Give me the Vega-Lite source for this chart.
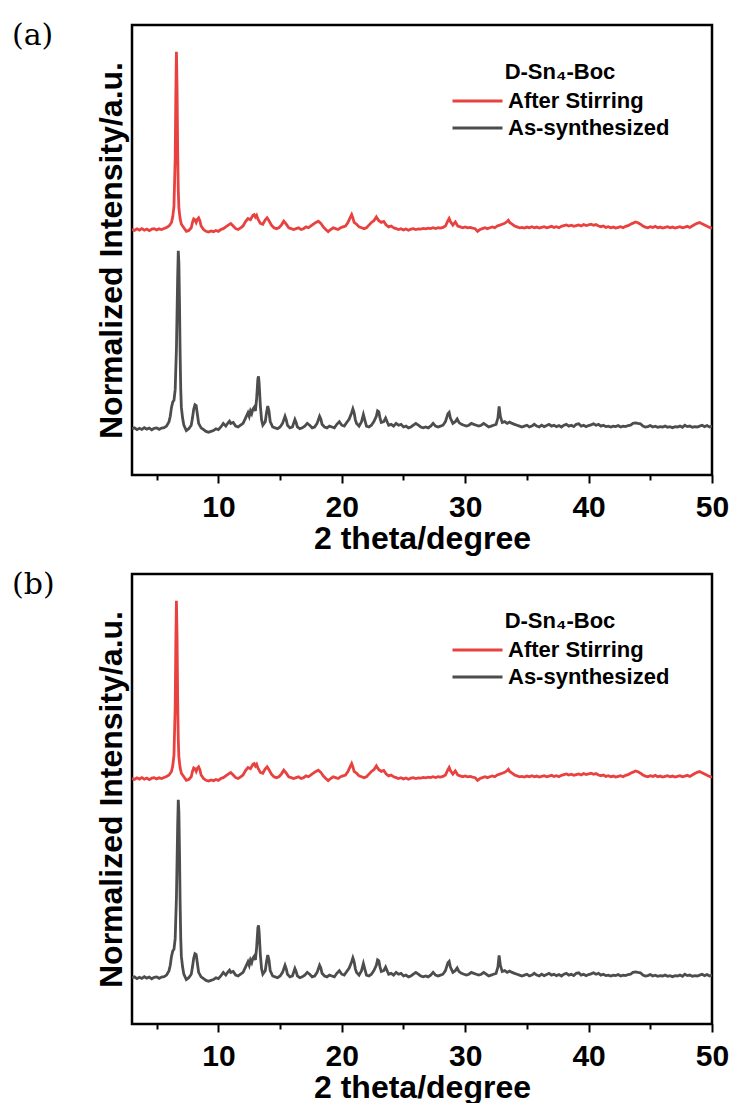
{
  "$schema": "https://vega.github.io/schema/vega-lite/v6.json",
  "background": "white",
  "padding": {"left": 10, "top": 19, "right": 18, "bottom": 4},
  "spacing": 12,
  "config": {
    "font": "Liberation Sans",
    "view": {"stroke": "#000000", "strokeWidth": 2.5},
    "axis": {"grid": false},
    "legend": {"orient": "none", "legendX": 319, "legendY": 37, "padding": 0, "titleFontSize": 22, "titleFontWeight": "bold", "titleColor": "#000000", "titleAnchor": "middle", "titlePadding": 6, "titleLimit": 0, "labelFontSize": 22, "labelFontWeight": "bold", "labelColor": "#000000", "labelOffset": 4, "labelLimit": 0, "symbolType": "stroke", "symbolSize": 2500, "symbolStrokeWidth": 2.8, "clipHeight": 22, "rowPadding": 5}
  },
  "resolve": {"legend": {"color": "independent"}},
  "datasets": {
    "xrd": [
      {"theta": 3.0, "intensity": 0.0, "sample": "As-synthesized"},
      {"theta": 3.2, "intensity": 0.005, "sample": "As-synthesized"},
      {"theta": 3.4, "intensity": -0.005, "sample": "As-synthesized"},
      {"theta": 3.6, "intensity": 0.003, "sample": "As-synthesized"},
      {"theta": 3.8, "intensity": -0.004, "sample": "As-synthesized"},
      {"theta": 4.0, "intensity": 0.006, "sample": "As-synthesized"},
      {"theta": 4.2, "intensity": -0.002, "sample": "As-synthesized"},
      {"theta": 4.4, "intensity": 0.004, "sample": "As-synthesized"},
      {"theta": 4.6, "intensity": -0.006, "sample": "As-synthesized"},
      {"theta": 4.8, "intensity": 0.002, "sample": "As-synthesized"},
      {"theta": 5.0, "intensity": 0.005, "sample": "As-synthesized"},
      {"theta": 5.2, "intensity": -0.003, "sample": "As-synthesized"},
      {"theta": 5.4, "intensity": 0.004, "sample": "As-synthesized"},
      {"theta": 5.6, "intensity": 0.006, "sample": "As-synthesized"},
      {"theta": 5.8, "intensity": 0.015, "sample": "As-synthesized"},
      {"theta": 6.0, "intensity": 0.04, "sample": "As-synthesized"},
      {"theta": 6.1, "intensity": 0.07, "sample": "As-synthesized"},
      {"theta": 6.2, "intensity": 0.12, "sample": "As-synthesized"},
      {"theta": 6.3, "intensity": 0.15, "sample": "As-synthesized"},
      {"theta": 6.4, "intensity": 0.16, "sample": "As-synthesized"},
      {"theta": 6.5, "intensity": 0.22, "sample": "As-synthesized"},
      {"theta": 6.6, "intensity": 0.45, "sample": "As-synthesized"},
      {"theta": 6.7, "intensity": 0.85, "sample": "As-synthesized"},
      {"theta": 6.75, "intensity": 1.0, "sample": "As-synthesized"},
      {"theta": 6.8, "intensity": 0.93, "sample": "As-synthesized"},
      {"theta": 6.85, "intensity": 0.7, "sample": "As-synthesized"},
      {"theta": 6.9, "intensity": 0.42, "sample": "As-synthesized"},
      {"theta": 6.95, "intensity": 0.22, "sample": "As-synthesized"},
      {"theta": 7.0, "intensity": 0.12, "sample": "As-synthesized"},
      {"theta": 7.1, "intensity": 0.06, "sample": "As-synthesized"},
      {"theta": 7.2, "intensity": 0.02, "sample": "As-synthesized"},
      {"theta": 7.4, "intensity": -0.01, "sample": "As-synthesized"},
      {"theta": 7.6, "intensity": 0.0, "sample": "As-synthesized"},
      {"theta": 7.8, "intensity": 0.02, "sample": "As-synthesized"},
      {"theta": 7.9, "intensity": 0.06, "sample": "As-synthesized"},
      {"theta": 8.0, "intensity": 0.11, "sample": "As-synthesized"},
      {"theta": 8.1, "intensity": 0.135, "sample": "As-synthesized"},
      {"theta": 8.2, "intensity": 0.13, "sample": "As-synthesized"},
      {"theta": 8.3, "intensity": 0.08, "sample": "As-synthesized"},
      {"theta": 8.4, "intensity": 0.03, "sample": "As-synthesized"},
      {"theta": 8.6, "intensity": 0.005, "sample": "As-synthesized"},
      {"theta": 8.8, "intensity": -0.005, "sample": "As-synthesized"},
      {"theta": 9.0, "intensity": -0.015, "sample": "As-synthesized"},
      {"theta": 9.2, "intensity": -0.02, "sample": "As-synthesized"},
      {"theta": 9.4, "intensity": -0.015, "sample": "As-synthesized"},
      {"theta": 9.6, "intensity": -0.01, "sample": "As-synthesized"},
      {"theta": 9.8, "intensity": 0.0, "sample": "As-synthesized"},
      {"theta": 10.0, "intensity": -0.005, "sample": "As-synthesized"},
      {"theta": 10.2, "intensity": 0.01, "sample": "As-synthesized"},
      {"theta": 10.4, "intensity": 0.03, "sample": "As-synthesized"},
      {"theta": 10.6, "intensity": 0.015, "sample": "As-synthesized"},
      {"theta": 10.8, "intensity": 0.035, "sample": "As-synthesized"},
      {"theta": 10.9, "intensity": 0.043, "sample": "As-synthesized"},
      {"theta": 11.0, "intensity": 0.03, "sample": "As-synthesized"},
      {"theta": 11.2, "intensity": 0.035, "sample": "As-synthesized"},
      {"theta": 11.4, "intensity": 0.015, "sample": "As-synthesized"},
      {"theta": 11.6, "intensity": 0.01, "sample": "As-synthesized"},
      {"theta": 11.8, "intensity": 0.02, "sample": "As-synthesized"},
      {"theta": 12.0, "intensity": 0.03, "sample": "As-synthesized"},
      {"theta": 12.2, "intensity": 0.06, "sample": "As-synthesized"},
      {"theta": 12.4, "intensity": 0.09, "sample": "As-synthesized"},
      {"theta": 12.5, "intensity": 0.07, "sample": "As-synthesized"},
      {"theta": 12.6, "intensity": 0.1, "sample": "As-synthesized"},
      {"theta": 12.7, "intensity": 0.085, "sample": "As-synthesized"},
      {"theta": 12.8, "intensity": 0.11, "sample": "As-synthesized"},
      {"theta": 12.9, "intensity": 0.12, "sample": "As-synthesized"},
      {"theta": 13.0, "intensity": 0.1, "sample": "As-synthesized"},
      {"theta": 13.1, "intensity": 0.17, "sample": "As-synthesized"},
      {"theta": 13.2, "intensity": 0.28, "sample": "As-synthesized"},
      {"theta": 13.25, "intensity": 0.295, "sample": "As-synthesized"},
      {"theta": 13.3, "intensity": 0.26, "sample": "As-synthesized"},
      {"theta": 13.4, "intensity": 0.13, "sample": "As-synthesized"},
      {"theta": 13.5, "intensity": 0.05, "sample": "As-synthesized"},
      {"theta": 13.6, "intensity": 0.02, "sample": "As-synthesized"},
      {"theta": 13.8, "intensity": 0.04, "sample": "As-synthesized"},
      {"theta": 13.9, "intensity": 0.09, "sample": "As-synthesized"},
      {"theta": 14.0, "intensity": 0.128, "sample": "As-synthesized"},
      {"theta": 14.1, "intensity": 0.1, "sample": "As-synthesized"},
      {"theta": 14.2, "intensity": 0.04, "sample": "As-synthesized"},
      {"theta": 14.4, "intensity": 0.01, "sample": "As-synthesized"},
      {"theta": 14.6, "intensity": 0.005, "sample": "As-synthesized"},
      {"theta": 14.8, "intensity": 0.0, "sample": "As-synthesized"},
      {"theta": 15.0, "intensity": 0.01, "sample": "As-synthesized"},
      {"theta": 15.2, "intensity": 0.03, "sample": "As-synthesized"},
      {"theta": 15.4, "intensity": 0.07, "sample": "As-synthesized"},
      {"theta": 15.5, "intensity": 0.05, "sample": "As-synthesized"},
      {"theta": 15.6, "intensity": 0.02, "sample": "As-synthesized"},
      {"theta": 15.8, "intensity": 0.005, "sample": "As-synthesized"},
      {"theta": 16.0, "intensity": 0.01, "sample": "As-synthesized"},
      {"theta": 16.2, "intensity": 0.052, "sample": "As-synthesized"},
      {"theta": 16.3, "intensity": 0.035, "sample": "As-synthesized"},
      {"theta": 16.4, "intensity": 0.01, "sample": "As-synthesized"},
      {"theta": 16.6, "intensity": 0.0, "sample": "As-synthesized"},
      {"theta": 16.8, "intensity": 0.005, "sample": "As-synthesized"},
      {"theta": 17.0, "intensity": 0.015, "sample": "As-synthesized"},
      {"theta": 17.2, "intensity": 0.03, "sample": "As-synthesized"},
      {"theta": 17.4, "intensity": 0.02, "sample": "As-synthesized"},
      {"theta": 17.6, "intensity": 0.005, "sample": "As-synthesized"},
      {"theta": 17.8, "intensity": 0.01, "sample": "As-synthesized"},
      {"theta": 18.0, "intensity": 0.03, "sample": "As-synthesized"},
      {"theta": 18.2, "intensity": 0.07, "sample": "As-synthesized"},
      {"theta": 18.3, "intensity": 0.055, "sample": "As-synthesized"},
      {"theta": 18.4, "intensity": 0.025, "sample": "As-synthesized"},
      {"theta": 18.6, "intensity": 0.01, "sample": "As-synthesized"},
      {"theta": 18.8, "intensity": 0.005, "sample": "As-synthesized"},
      {"theta": 19.0, "intensity": 0.015, "sample": "As-synthesized"},
      {"theta": 19.2, "intensity": 0.01, "sample": "As-synthesized"},
      {"theta": 19.4, "intensity": 0.005, "sample": "As-synthesized"},
      {"theta": 19.6, "intensity": 0.025, "sample": "As-synthesized"},
      {"theta": 19.8, "intensity": 0.04, "sample": "As-synthesized"},
      {"theta": 20.0, "intensity": 0.02, "sample": "As-synthesized"},
      {"theta": 20.2, "intensity": 0.015, "sample": "As-synthesized"},
      {"theta": 20.4, "intensity": 0.035, "sample": "As-synthesized"},
      {"theta": 20.6, "intensity": 0.055, "sample": "As-synthesized"},
      {"theta": 20.8, "intensity": 0.09, "sample": "As-synthesized"},
      {"theta": 20.9, "intensity": 0.112, "sample": "As-synthesized"},
      {"theta": 21.0, "intensity": 0.09, "sample": "As-synthesized"},
      {"theta": 21.1, "intensity": 0.05, "sample": "As-synthesized"},
      {"theta": 21.2, "intensity": 0.03, "sample": "As-synthesized"},
      {"theta": 21.4, "intensity": 0.015, "sample": "As-synthesized"},
      {"theta": 21.6, "intensity": 0.04, "sample": "As-synthesized"},
      {"theta": 21.75, "intensity": 0.08, "sample": "As-synthesized"},
      {"theta": 21.9, "intensity": 0.04, "sample": "As-synthesized"},
      {"theta": 22.0, "intensity": 0.015, "sample": "As-synthesized"},
      {"theta": 22.2, "intensity": 0.01, "sample": "As-synthesized"},
      {"theta": 22.4, "intensity": 0.02, "sample": "As-synthesized"},
      {"theta": 22.6, "intensity": 0.04, "sample": "As-synthesized"},
      {"theta": 22.8, "intensity": 0.07, "sample": "As-synthesized"},
      {"theta": 22.9, "intensity": 0.1, "sample": "As-synthesized"},
      {"theta": 23.0, "intensity": 0.095, "sample": "As-synthesized"},
      {"theta": 23.1, "intensity": 0.06, "sample": "As-synthesized"},
      {"theta": 23.2, "intensity": 0.035, "sample": "As-synthesized"},
      {"theta": 23.4, "intensity": 0.04, "sample": "As-synthesized"},
      {"theta": 23.55, "intensity": 0.06, "sample": "As-synthesized"},
      {"theta": 23.7, "intensity": 0.035, "sample": "As-synthesized"},
      {"theta": 23.8, "intensity": 0.02, "sample": "As-synthesized"},
      {"theta": 24.0, "intensity": 0.025, "sample": "As-synthesized"},
      {"theta": 24.2, "intensity": 0.015, "sample": "As-synthesized"},
      {"theta": 24.4, "intensity": 0.03, "sample": "As-synthesized"},
      {"theta": 24.6, "intensity": 0.02, "sample": "As-synthesized"},
      {"theta": 24.8, "intensity": 0.025, "sample": "As-synthesized"},
      {"theta": 25.0, "intensity": 0.01, "sample": "As-synthesized"},
      {"theta": 25.2, "intensity": 0.015, "sample": "As-synthesized"},
      {"theta": 25.4, "intensity": 0.005, "sample": "As-synthesized"},
      {"theta": 25.6, "intensity": 0.01, "sample": "As-synthesized"},
      {"theta": 25.8, "intensity": 0.02, "sample": "As-synthesized"},
      {"theta": 26.0, "intensity": 0.03, "sample": "As-synthesized"},
      {"theta": 26.2, "intensity": 0.02, "sample": "As-synthesized"},
      {"theta": 26.4, "intensity": 0.01, "sample": "As-synthesized"},
      {"theta": 26.6, "intensity": 0.005, "sample": "As-synthesized"},
      {"theta": 26.8, "intensity": 0.01, "sample": "As-synthesized"},
      {"theta": 27.0, "intensity": 0.005, "sample": "As-synthesized"},
      {"theta": 27.2, "intensity": 0.015, "sample": "As-synthesized"},
      {"theta": 27.4, "intensity": 0.03, "sample": "As-synthesized"},
      {"theta": 27.6, "intensity": 0.015, "sample": "As-synthesized"},
      {"theta": 27.8, "intensity": 0.01, "sample": "As-synthesized"},
      {"theta": 28.0, "intensity": 0.015, "sample": "As-synthesized"},
      {"theta": 28.2, "intensity": 0.02, "sample": "As-synthesized"},
      {"theta": 28.4, "intensity": 0.04, "sample": "As-synthesized"},
      {"theta": 28.6, "intensity": 0.085, "sample": "As-synthesized"},
      {"theta": 28.7, "intensity": 0.092, "sample": "As-synthesized"},
      {"theta": 28.8, "intensity": 0.06, "sample": "As-synthesized"},
      {"theta": 29.0, "intensity": 0.03, "sample": "As-synthesized"},
      {"theta": 29.2, "intensity": 0.04, "sample": "As-synthesized"},
      {"theta": 29.35, "intensity": 0.055, "sample": "As-synthesized"},
      {"theta": 29.5, "intensity": 0.035, "sample": "As-synthesized"},
      {"theta": 29.7, "intensity": 0.025, "sample": "As-synthesized"},
      {"theta": 29.9, "intensity": 0.02, "sample": "As-synthesized"},
      {"theta": 30.1, "intensity": 0.015, "sample": "As-synthesized"},
      {"theta": 30.3, "intensity": 0.02, "sample": "As-synthesized"},
      {"theta": 30.5, "intensity": 0.03, "sample": "As-synthesized"},
      {"theta": 30.7, "intensity": 0.025, "sample": "As-synthesized"},
      {"theta": 30.9, "intensity": 0.02, "sample": "As-synthesized"},
      {"theta": 31.1, "intensity": 0.015, "sample": "As-synthesized"},
      {"theta": 31.3, "intensity": 0.02, "sample": "As-synthesized"},
      {"theta": 31.5, "intensity": 0.03, "sample": "As-synthesized"},
      {"theta": 31.7, "intensity": 0.02, "sample": "As-synthesized"},
      {"theta": 31.9, "intensity": 0.01, "sample": "As-synthesized"},
      {"theta": 32.1, "intensity": 0.015, "sample": "As-synthesized"},
      {"theta": 32.3, "intensity": 0.02, "sample": "As-synthesized"},
      {"theta": 32.5, "intensity": 0.025, "sample": "As-synthesized"},
      {"theta": 32.65, "intensity": 0.06, "sample": "As-synthesized"},
      {"theta": 32.75, "intensity": 0.125, "sample": "As-synthesized"},
      {"theta": 32.85, "intensity": 0.07, "sample": "As-synthesized"},
      {"theta": 33.0, "intensity": 0.035, "sample": "As-synthesized"},
      {"theta": 33.2, "intensity": 0.04, "sample": "As-synthesized"},
      {"theta": 33.4, "intensity": 0.03, "sample": "As-synthesized"},
      {"theta": 33.6, "intensity": 0.038, "sample": "As-synthesized"},
      {"theta": 33.8, "intensity": 0.03, "sample": "As-synthesized"},
      {"theta": 34.0, "intensity": 0.025, "sample": "As-synthesized"},
      {"theta": 34.2, "intensity": 0.02, "sample": "As-synthesized"},
      {"theta": 34.4, "intensity": 0.015, "sample": "As-synthesized"},
      {"theta": 34.6, "intensity": 0.01, "sample": "As-synthesized"},
      {"theta": 34.8, "intensity": 0.015, "sample": "As-synthesized"},
      {"theta": 35.0, "intensity": 0.02, "sample": "As-synthesized"},
      {"theta": 35.2, "intensity": 0.01, "sample": "As-synthesized"},
      {"theta": 35.4, "intensity": 0.015, "sample": "As-synthesized"},
      {"theta": 35.6, "intensity": 0.025, "sample": "As-synthesized"},
      {"theta": 35.8, "intensity": 0.015, "sample": "As-synthesized"},
      {"theta": 36.0, "intensity": 0.01, "sample": "As-synthesized"},
      {"theta": 36.2, "intensity": 0.02, "sample": "As-synthesized"},
      {"theta": 36.4, "intensity": 0.012, "sample": "As-synthesized"},
      {"theta": 36.6, "intensity": 0.018, "sample": "As-synthesized"},
      {"theta": 36.8, "intensity": 0.025, "sample": "As-synthesized"},
      {"theta": 37.0, "intensity": 0.015, "sample": "As-synthesized"},
      {"theta": 37.2, "intensity": 0.02, "sample": "As-synthesized"},
      {"theta": 37.4, "intensity": 0.012, "sample": "As-synthesized"},
      {"theta": 37.6, "intensity": 0.018, "sample": "As-synthesized"},
      {"theta": 37.8, "intensity": 0.01, "sample": "As-synthesized"},
      {"theta": 38.0, "intensity": 0.02, "sample": "As-synthesized"},
      {"theta": 38.2, "intensity": 0.025, "sample": "As-synthesized"},
      {"theta": 38.4, "intensity": 0.015, "sample": "As-synthesized"},
      {"theta": 38.6, "intensity": 0.02, "sample": "As-synthesized"},
      {"theta": 38.8, "intensity": 0.012, "sample": "As-synthesized"},
      {"theta": 39.0, "intensity": 0.025, "sample": "As-synthesized"},
      {"theta": 39.2, "intensity": 0.028, "sample": "As-synthesized"},
      {"theta": 39.4, "intensity": 0.015, "sample": "As-synthesized"},
      {"theta": 39.6, "intensity": 0.02, "sample": "As-synthesized"},
      {"theta": 39.8, "intensity": 0.012, "sample": "As-synthesized"},
      {"theta": 40.0, "intensity": 0.018, "sample": "As-synthesized"},
      {"theta": 40.2, "intensity": 0.022, "sample": "As-synthesized"},
      {"theta": 40.4, "intensity": 0.028, "sample": "As-synthesized"},
      {"theta": 40.6, "intensity": 0.02, "sample": "As-synthesized"},
      {"theta": 40.8, "intensity": 0.025, "sample": "As-synthesized"},
      {"theta": 41.0, "intensity": 0.015, "sample": "As-synthesized"},
      {"theta": 41.2, "intensity": 0.02, "sample": "As-synthesized"},
      {"theta": 41.4, "intensity": 0.012, "sample": "As-synthesized"},
      {"theta": 41.6, "intensity": 0.015, "sample": "As-synthesized"},
      {"theta": 41.8, "intensity": 0.01, "sample": "As-synthesized"},
      {"theta": 42.0, "intensity": 0.015, "sample": "As-synthesized"},
      {"theta": 42.2, "intensity": 0.012, "sample": "As-synthesized"},
      {"theta": 42.4, "intensity": 0.018, "sample": "As-synthesized"},
      {"theta": 42.6, "intensity": 0.01, "sample": "As-synthesized"},
      {"theta": 42.8, "intensity": 0.015, "sample": "As-synthesized"},
      {"theta": 43.0, "intensity": 0.012, "sample": "As-synthesized"},
      {"theta": 43.2, "intensity": 0.018, "sample": "As-synthesized"},
      {"theta": 43.4, "intensity": 0.02, "sample": "As-synthesized"},
      {"theta": 43.6, "intensity": 0.03, "sample": "As-synthesized"},
      {"theta": 43.8, "intensity": 0.033, "sample": "As-synthesized"},
      {"theta": 44.0, "intensity": 0.03, "sample": "As-synthesized"},
      {"theta": 44.2, "intensity": 0.028, "sample": "As-synthesized"},
      {"theta": 44.4, "intensity": 0.015, "sample": "As-synthesized"},
      {"theta": 44.6, "intensity": 0.01, "sample": "As-synthesized"},
      {"theta": 44.8, "intensity": 0.012, "sample": "As-synthesized"},
      {"theta": 45.0, "intensity": 0.018, "sample": "As-synthesized"},
      {"theta": 45.2, "intensity": 0.01, "sample": "As-synthesized"},
      {"theta": 45.4, "intensity": 0.014, "sample": "As-synthesized"},
      {"theta": 45.6, "intensity": 0.008, "sample": "As-synthesized"},
      {"theta": 45.8, "intensity": 0.012, "sample": "As-synthesized"},
      {"theta": 46.0, "intensity": 0.01, "sample": "As-synthesized"},
      {"theta": 46.2, "intensity": 0.015, "sample": "As-synthesized"},
      {"theta": 46.4, "intensity": 0.008, "sample": "As-synthesized"},
      {"theta": 46.6, "intensity": 0.012, "sample": "As-synthesized"},
      {"theta": 46.8, "intensity": 0.006, "sample": "As-synthesized"},
      {"theta": 47.0, "intensity": 0.012, "sample": "As-synthesized"},
      {"theta": 47.2, "intensity": 0.01, "sample": "As-synthesized"},
      {"theta": 47.4, "intensity": 0.015, "sample": "As-synthesized"},
      {"theta": 47.6, "intensity": 0.008, "sample": "As-synthesized"},
      {"theta": 47.8, "intensity": 0.02, "sample": "As-synthesized"},
      {"theta": 48.0, "intensity": 0.012, "sample": "As-synthesized"},
      {"theta": 48.2, "intensity": 0.015, "sample": "As-synthesized"},
      {"theta": 48.4, "intensity": 0.008, "sample": "As-synthesized"},
      {"theta": 48.6, "intensity": 0.012, "sample": "As-synthesized"},
      {"theta": 48.8, "intensity": 0.01, "sample": "As-synthesized"},
      {"theta": 49.0, "intensity": 0.015, "sample": "As-synthesized"},
      {"theta": 49.2, "intensity": 0.02, "sample": "As-synthesized"},
      {"theta": 49.4, "intensity": 0.012, "sample": "As-synthesized"},
      {"theta": 49.6, "intensity": 0.018, "sample": "As-synthesized"},
      {"theta": 49.8, "intensity": 0.01, "sample": "As-synthesized"},
      {"theta": 50.0, "intensity": 0.015, "sample": "As-synthesized"},
      {"theta": 3.0, "intensity": 1.12, "sample": "After Stirring"},
      {"theta": 3.2, "intensity": 1.115, "sample": "After Stirring"},
      {"theta": 3.4, "intensity": 1.124, "sample": "After Stirring"},
      {"theta": 3.6, "intensity": 1.117, "sample": "After Stirring"},
      {"theta": 3.8, "intensity": 1.125, "sample": "After Stirring"},
      {"theta": 4.0, "intensity": 1.116, "sample": "After Stirring"},
      {"theta": 4.2, "intensity": 1.123, "sample": "After Stirring"},
      {"theta": 4.4, "intensity": 1.114, "sample": "After Stirring"},
      {"theta": 4.6, "intensity": 1.122, "sample": "After Stirring"},
      {"theta": 4.8, "intensity": 1.125, "sample": "After Stirring"},
      {"theta": 5.0, "intensity": 1.118, "sample": "After Stirring"},
      {"theta": 5.2, "intensity": 1.124, "sample": "After Stirring"},
      {"theta": 5.4, "intensity": 1.12, "sample": "After Stirring"},
      {"theta": 5.6, "intensity": 1.126, "sample": "After Stirring"},
      {"theta": 5.8, "intensity": 1.132, "sample": "After Stirring"},
      {"theta": 6.0, "intensity": 1.14, "sample": "After Stirring"},
      {"theta": 6.2, "intensity": 1.16, "sample": "After Stirring"},
      {"theta": 6.3, "intensity": 1.19, "sample": "After Stirring"},
      {"theta": 6.4, "intensity": 1.25, "sample": "After Stirring"},
      {"theta": 6.5, "intensity": 1.52, "sample": "After Stirring"},
      {"theta": 6.55, "intensity": 1.87, "sample": "After Stirring"},
      {"theta": 6.6, "intensity": 2.12, "sample": "After Stirring"},
      {"theta": 6.65, "intensity": 1.92, "sample": "After Stirring"},
      {"theta": 6.7, "intensity": 1.57, "sample": "After Stirring"},
      {"theta": 6.75, "intensity": 1.34, "sample": "After Stirring"},
      {"theta": 6.8, "intensity": 1.24, "sample": "After Stirring"},
      {"theta": 6.9, "intensity": 1.18, "sample": "After Stirring"},
      {"theta": 7.0, "intensity": 1.15, "sample": "After Stirring"},
      {"theta": 7.2, "intensity": 1.13, "sample": "After Stirring"},
      {"theta": 7.4, "intensity": 1.11, "sample": "After Stirring"},
      {"theta": 7.6, "intensity": 1.115, "sample": "After Stirring"},
      {"theta": 7.8, "intensity": 1.13, "sample": "After Stirring"},
      {"theta": 7.9, "intensity": 1.16, "sample": "After Stirring"},
      {"theta": 8.0, "intensity": 1.18, "sample": "After Stirring"},
      {"theta": 8.1, "intensity": 1.175, "sample": "After Stirring"},
      {"theta": 8.2, "intensity": 1.16, "sample": "After Stirring"},
      {"theta": 8.3, "intensity": 1.178, "sample": "After Stirring"},
      {"theta": 8.4, "intensity": 1.186, "sample": "After Stirring"},
      {"theta": 8.5, "intensity": 1.17, "sample": "After Stirring"},
      {"theta": 8.6, "intensity": 1.14, "sample": "After Stirring"},
      {"theta": 8.8, "intensity": 1.12, "sample": "After Stirring"},
      {"theta": 9.0, "intensity": 1.11, "sample": "After Stirring"},
      {"theta": 9.2, "intensity": 1.106, "sample": "After Stirring"},
      {"theta": 9.4, "intensity": 1.112, "sample": "After Stirring"},
      {"theta": 9.6, "intensity": 1.108, "sample": "After Stirring"},
      {"theta": 9.8, "intensity": 1.115, "sample": "After Stirring"},
      {"theta": 10.0, "intensity": 1.11, "sample": "After Stirring"},
      {"theta": 10.2, "intensity": 1.12, "sample": "After Stirring"},
      {"theta": 10.4, "intensity": 1.125, "sample": "After Stirring"},
      {"theta": 10.6, "intensity": 1.135, "sample": "After Stirring"},
      {"theta": 10.8, "intensity": 1.145, "sample": "After Stirring"},
      {"theta": 11.0, "intensity": 1.154, "sample": "After Stirring"},
      {"theta": 11.2, "intensity": 1.14, "sample": "After Stirring"},
      {"theta": 11.4, "intensity": 1.125, "sample": "After Stirring"},
      {"theta": 11.6, "intensity": 1.12, "sample": "After Stirring"},
      {"theta": 11.8, "intensity": 1.13, "sample": "After Stirring"},
      {"theta": 12.0, "intensity": 1.14, "sample": "After Stirring"},
      {"theta": 12.2, "intensity": 1.165, "sample": "After Stirring"},
      {"theta": 12.4, "intensity": 1.182, "sample": "After Stirring"},
      {"theta": 12.6, "intensity": 1.175, "sample": "After Stirring"},
      {"theta": 12.8, "intensity": 1.2, "sample": "After Stirring"},
      {"theta": 12.9, "intensity": 1.204, "sample": "After Stirring"},
      {"theta": 13.0, "intensity": 1.19, "sample": "After Stirring"},
      {"theta": 13.1, "intensity": 1.2, "sample": "After Stirring"},
      {"theta": 13.2, "intensity": 1.18, "sample": "After Stirring"},
      {"theta": 13.4, "intensity": 1.155, "sample": "After Stirring"},
      {"theta": 13.6, "intensity": 1.15, "sample": "After Stirring"},
      {"theta": 13.8, "intensity": 1.175, "sample": "After Stirring"},
      {"theta": 13.95, "intensity": 1.186, "sample": "After Stirring"},
      {"theta": 14.1, "intensity": 1.17, "sample": "After Stirring"},
      {"theta": 14.3, "intensity": 1.145, "sample": "After Stirring"},
      {"theta": 14.5, "intensity": 1.13, "sample": "After Stirring"},
      {"theta": 14.7, "intensity": 1.125, "sample": "After Stirring"},
      {"theta": 14.9, "intensity": 1.13, "sample": "After Stirring"},
      {"theta": 15.1, "intensity": 1.145, "sample": "After Stirring"},
      {"theta": 15.3, "intensity": 1.167, "sample": "After Stirring"},
      {"theta": 15.5, "intensity": 1.15, "sample": "After Stirring"},
      {"theta": 15.7, "intensity": 1.13, "sample": "After Stirring"},
      {"theta": 15.9, "intensity": 1.125, "sample": "After Stirring"},
      {"theta": 16.1, "intensity": 1.12, "sample": "After Stirring"},
      {"theta": 16.3, "intensity": 1.125, "sample": "After Stirring"},
      {"theta": 16.5, "intensity": 1.13, "sample": "After Stirring"},
      {"theta": 16.7, "intensity": 1.12, "sample": "After Stirring"},
      {"theta": 16.9, "intensity": 1.125, "sample": "After Stirring"},
      {"theta": 17.1, "intensity": 1.135, "sample": "After Stirring"},
      {"theta": 17.3, "intensity": 1.13, "sample": "After Stirring"},
      {"theta": 17.5, "intensity": 1.14, "sample": "After Stirring"},
      {"theta": 17.7, "intensity": 1.15, "sample": "After Stirring"},
      {"theta": 17.9, "intensity": 1.16, "sample": "After Stirring"},
      {"theta": 18.1, "intensity": 1.167, "sample": "After Stirring"},
      {"theta": 18.3, "intensity": 1.155, "sample": "After Stirring"},
      {"theta": 18.5, "intensity": 1.135, "sample": "After Stirring"},
      {"theta": 18.7, "intensity": 1.12, "sample": "After Stirring"},
      {"theta": 18.9, "intensity": 1.108, "sample": "After Stirring"},
      {"theta": 19.1, "intensity": 1.12, "sample": "After Stirring"},
      {"theta": 19.3, "intensity": 1.13, "sample": "After Stirring"},
      {"theta": 19.5, "intensity": 1.125, "sample": "After Stirring"},
      {"theta": 19.7, "intensity": 1.12, "sample": "After Stirring"},
      {"theta": 19.9, "intensity": 1.13, "sample": "After Stirring"},
      {"theta": 20.1, "intensity": 1.135, "sample": "After Stirring"},
      {"theta": 20.3, "intensity": 1.14, "sample": "After Stirring"},
      {"theta": 20.5, "intensity": 1.16, "sample": "After Stirring"},
      {"theta": 20.7, "intensity": 1.19, "sample": "After Stirring"},
      {"theta": 20.8, "intensity": 1.204, "sample": "After Stirring"},
      {"theta": 20.9, "intensity": 1.185, "sample": "After Stirring"},
      {"theta": 21.0, "intensity": 1.16, "sample": "After Stirring"},
      {"theta": 21.2, "intensity": 1.15, "sample": "After Stirring"},
      {"theta": 21.4, "intensity": 1.135, "sample": "After Stirring"},
      {"theta": 21.6, "intensity": 1.13, "sample": "After Stirring"},
      {"theta": 21.8, "intensity": 1.125, "sample": "After Stirring"},
      {"theta": 22.0, "intensity": 1.13, "sample": "After Stirring"},
      {"theta": 22.2, "intensity": 1.145, "sample": "After Stirring"},
      {"theta": 22.4, "intensity": 1.16, "sample": "After Stirring"},
      {"theta": 22.6, "intensity": 1.17, "sample": "After Stirring"},
      {"theta": 22.8, "intensity": 1.191, "sample": "After Stirring"},
      {"theta": 22.9, "intensity": 1.18, "sample": "After Stirring"},
      {"theta": 23.0, "intensity": 1.17, "sample": "After Stirring"},
      {"theta": 23.2, "intensity": 1.16, "sample": "After Stirring"},
      {"theta": 23.4, "intensity": 1.165, "sample": "After Stirring"},
      {"theta": 23.6, "intensity": 1.145, "sample": "After Stirring"},
      {"theta": 23.8, "intensity": 1.135, "sample": "After Stirring"},
      {"theta": 24.0, "intensity": 1.14, "sample": "After Stirring"},
      {"theta": 24.2, "intensity": 1.13, "sample": "After Stirring"},
      {"theta": 24.4, "intensity": 1.125, "sample": "After Stirring"},
      {"theta": 24.6, "intensity": 1.12, "sample": "After Stirring"},
      {"theta": 24.8, "intensity": 1.125, "sample": "After Stirring"},
      {"theta": 25.0, "intensity": 1.118, "sample": "After Stirring"},
      {"theta": 25.2, "intensity": 1.123, "sample": "After Stirring"},
      {"theta": 25.4, "intensity": 1.116, "sample": "After Stirring"},
      {"theta": 25.6, "intensity": 1.122, "sample": "After Stirring"},
      {"theta": 25.8, "intensity": 1.125, "sample": "After Stirring"},
      {"theta": 26.0, "intensity": 1.12, "sample": "After Stirring"},
      {"theta": 26.2, "intensity": 1.124, "sample": "After Stirring"},
      {"theta": 26.4, "intensity": 1.122, "sample": "After Stirring"},
      {"theta": 26.6, "intensity": 1.126, "sample": "After Stirring"},
      {"theta": 26.8, "intensity": 1.124, "sample": "After Stirring"},
      {"theta": 27.0, "intensity": 1.128, "sample": "After Stirring"},
      {"theta": 27.2, "intensity": 1.125, "sample": "After Stirring"},
      {"theta": 27.4, "intensity": 1.13, "sample": "After Stirring"},
      {"theta": 27.6, "intensity": 1.126, "sample": "After Stirring"},
      {"theta": 27.8, "intensity": 1.13, "sample": "After Stirring"},
      {"theta": 28.0, "intensity": 1.128, "sample": "After Stirring"},
      {"theta": 28.2, "intensity": 1.132, "sample": "After Stirring"},
      {"theta": 28.4, "intensity": 1.14, "sample": "After Stirring"},
      {"theta": 28.6, "intensity": 1.17, "sample": "After Stirring"},
      {"theta": 28.7, "intensity": 1.182, "sample": "After Stirring"},
      {"theta": 28.8, "intensity": 1.165, "sample": "After Stirring"},
      {"theta": 29.0, "intensity": 1.145, "sample": "After Stirring"},
      {"theta": 29.2, "intensity": 1.163, "sample": "After Stirring"},
      {"theta": 29.4, "intensity": 1.14, "sample": "After Stirring"},
      {"theta": 29.6, "intensity": 1.135, "sample": "After Stirring"},
      {"theta": 29.8, "intensity": 1.13, "sample": "After Stirring"},
      {"theta": 30.0, "intensity": 1.135, "sample": "After Stirring"},
      {"theta": 30.2, "intensity": 1.13, "sample": "After Stirring"},
      {"theta": 30.4, "intensity": 1.132, "sample": "After Stirring"},
      {"theta": 30.6, "intensity": 1.128, "sample": "After Stirring"},
      {"theta": 30.8, "intensity": 1.125, "sample": "After Stirring"},
      {"theta": 31.0, "intensity": 1.11, "sample": "After Stirring"},
      {"theta": 31.2, "intensity": 1.12, "sample": "After Stirring"},
      {"theta": 31.4, "intensity": 1.125, "sample": "After Stirring"},
      {"theta": 31.6, "intensity": 1.13, "sample": "After Stirring"},
      {"theta": 31.8, "intensity": 1.125, "sample": "After Stirring"},
      {"theta": 32.0, "intensity": 1.13, "sample": "After Stirring"},
      {"theta": 32.2, "intensity": 1.135, "sample": "After Stirring"},
      {"theta": 32.4, "intensity": 1.13, "sample": "After Stirring"},
      {"theta": 32.6, "intensity": 1.14, "sample": "After Stirring"},
      {"theta": 32.8, "intensity": 1.145, "sample": "After Stirring"},
      {"theta": 33.0, "intensity": 1.15, "sample": "After Stirring"},
      {"theta": 33.2, "intensity": 1.155, "sample": "After Stirring"},
      {"theta": 33.4, "intensity": 1.165, "sample": "After Stirring"},
      {"theta": 33.5, "intensity": 1.172, "sample": "After Stirring"},
      {"theta": 33.6, "intensity": 1.16, "sample": "After Stirring"},
      {"theta": 33.8, "intensity": 1.15, "sample": "After Stirring"},
      {"theta": 34.0, "intensity": 1.14, "sample": "After Stirring"},
      {"theta": 34.2, "intensity": 1.135, "sample": "After Stirring"},
      {"theta": 34.4, "intensity": 1.13, "sample": "After Stirring"},
      {"theta": 34.6, "intensity": 1.132, "sample": "After Stirring"},
      {"theta": 34.8, "intensity": 1.128, "sample": "After Stirring"},
      {"theta": 35.0, "intensity": 1.134, "sample": "After Stirring"},
      {"theta": 35.2, "intensity": 1.13, "sample": "After Stirring"},
      {"theta": 35.4, "intensity": 1.136, "sample": "After Stirring"},
      {"theta": 35.6, "intensity": 1.13, "sample": "After Stirring"},
      {"theta": 35.8, "intensity": 1.134, "sample": "After Stirring"},
      {"theta": 36.0, "intensity": 1.128, "sample": "After Stirring"},
      {"theta": 36.2, "intensity": 1.132, "sample": "After Stirring"},
      {"theta": 36.4, "intensity": 1.136, "sample": "After Stirring"},
      {"theta": 36.6, "intensity": 1.13, "sample": "After Stirring"},
      {"theta": 36.8, "intensity": 1.134, "sample": "After Stirring"},
      {"theta": 37.0, "intensity": 1.138, "sample": "After Stirring"},
      {"theta": 37.2, "intensity": 1.132, "sample": "After Stirring"},
      {"theta": 37.4, "intensity": 1.136, "sample": "After Stirring"},
      {"theta": 37.6, "intensity": 1.13, "sample": "After Stirring"},
      {"theta": 37.8, "intensity": 1.138, "sample": "After Stirring"},
      {"theta": 38.0, "intensity": 1.142, "sample": "After Stirring"},
      {"theta": 38.2, "intensity": 1.146, "sample": "After Stirring"},
      {"theta": 38.4, "intensity": 1.14, "sample": "After Stirring"},
      {"theta": 38.6, "intensity": 1.144, "sample": "After Stirring"},
      {"theta": 38.8, "intensity": 1.138, "sample": "After Stirring"},
      {"theta": 39.0, "intensity": 1.142, "sample": "After Stirring"},
      {"theta": 39.2, "intensity": 1.146, "sample": "After Stirring"},
      {"theta": 39.4, "intensity": 1.14, "sample": "After Stirring"},
      {"theta": 39.6, "intensity": 1.148, "sample": "After Stirring"},
      {"theta": 39.8, "intensity": 1.142, "sample": "After Stirring"},
      {"theta": 40.0, "intensity": 1.146, "sample": "After Stirring"},
      {"theta": 40.2, "intensity": 1.15, "sample": "After Stirring"},
      {"theta": 40.4, "intensity": 1.144, "sample": "After Stirring"},
      {"theta": 40.6, "intensity": 1.148, "sample": "After Stirring"},
      {"theta": 40.8, "intensity": 1.14, "sample": "After Stirring"},
      {"theta": 41.0, "intensity": 1.136, "sample": "After Stirring"},
      {"theta": 41.2, "intensity": 1.14, "sample": "After Stirring"},
      {"theta": 41.4, "intensity": 1.132, "sample": "After Stirring"},
      {"theta": 41.6, "intensity": 1.136, "sample": "After Stirring"},
      {"theta": 41.8, "intensity": 1.13, "sample": "After Stirring"},
      {"theta": 42.0, "intensity": 1.134, "sample": "After Stirring"},
      {"theta": 42.2, "intensity": 1.128, "sample": "After Stirring"},
      {"theta": 42.4, "intensity": 1.132, "sample": "After Stirring"},
      {"theta": 42.6, "intensity": 1.136, "sample": "After Stirring"},
      {"theta": 42.8, "intensity": 1.13, "sample": "After Stirring"},
      {"theta": 43.0, "intensity": 1.138, "sample": "After Stirring"},
      {"theta": 43.2, "intensity": 1.142, "sample": "After Stirring"},
      {"theta": 43.4, "intensity": 1.15, "sample": "After Stirring"},
      {"theta": 43.6, "intensity": 1.156, "sample": "After Stirring"},
      {"theta": 43.8, "intensity": 1.163, "sample": "After Stirring"},
      {"theta": 44.0, "intensity": 1.158, "sample": "After Stirring"},
      {"theta": 44.2, "intensity": 1.15, "sample": "After Stirring"},
      {"theta": 44.4, "intensity": 1.14, "sample": "After Stirring"},
      {"theta": 44.6, "intensity": 1.134, "sample": "After Stirring"},
      {"theta": 44.8, "intensity": 1.13, "sample": "After Stirring"},
      {"theta": 45.0, "intensity": 1.136, "sample": "After Stirring"},
      {"theta": 45.2, "intensity": 1.132, "sample": "After Stirring"},
      {"theta": 45.4, "intensity": 1.138, "sample": "After Stirring"},
      {"theta": 45.6, "intensity": 1.13, "sample": "After Stirring"},
      {"theta": 45.8, "intensity": 1.134, "sample": "After Stirring"},
      {"theta": 46.0, "intensity": 1.128, "sample": "After Stirring"},
      {"theta": 46.2, "intensity": 1.132, "sample": "After Stirring"},
      {"theta": 46.4, "intensity": 1.136, "sample": "After Stirring"},
      {"theta": 46.6, "intensity": 1.13, "sample": "After Stirring"},
      {"theta": 46.8, "intensity": 1.134, "sample": "After Stirring"},
      {"theta": 47.0, "intensity": 1.128, "sample": "After Stirring"},
      {"theta": 47.2, "intensity": 1.132, "sample": "After Stirring"},
      {"theta": 47.4, "intensity": 1.136, "sample": "After Stirring"},
      {"theta": 47.6, "intensity": 1.13, "sample": "After Stirring"},
      {"theta": 47.8, "intensity": 1.134, "sample": "After Stirring"},
      {"theta": 48.0, "intensity": 1.138, "sample": "After Stirring"},
      {"theta": 48.2, "intensity": 1.132, "sample": "After Stirring"},
      {"theta": 48.4, "intensity": 1.14, "sample": "After Stirring"},
      {"theta": 48.6, "intensity": 1.148, "sample": "After Stirring"},
      {"theta": 48.8, "intensity": 1.155, "sample": "After Stirring"},
      {"theta": 49.0, "intensity": 1.16, "sample": "After Stirring"},
      {"theta": 49.2, "intensity": 1.152, "sample": "After Stirring"},
      {"theta": 49.4, "intensity": 1.145, "sample": "After Stirring"},
      {"theta": 49.6, "intensity": 1.138, "sample": "After Stirring"},
      {"theta": 49.8, "intensity": 1.132, "sample": "After Stirring"},
      {"theta": 50.0, "intensity": 1.128, "sample": "After Stirring"}
    ]
  },
  "vconcat": [
    {
      "width": 580,
      "height": 450,
      "title": {"text": "(a)", "anchor": "start", "frame": "group", "orient": "top", "baseline": "top", "offset": 0, "dx": -120, "dy": 26, "font": "DejaVu Serif", "fontSize": 30, "fontWeight": "normal", "color": "#000000"},
      "data": {"name": "xrd"},
      "mark": {"type": "line", "strokeWidth": 2.8, "clip": true},
      "encoding": {
        "x": {
          "field": "theta", "type": "quantitative",
          "scale": {"domain": [3, 50], "nice": false, "zero": false},
          "axis": {
            "title": "2 theta/degree", "titleFontSize": 32, "titleFontWeight": "bold", "titleColor": "#000000", "titlePadding": 1,
            "values": [5, 10, 15, 20, 25, 30, 35, 40, 45, 50],
            "labelExpr": "datum.value % 10 === 0 ? datum.label : ''",
            "labelFontSize": 30, "labelFontWeight": "bold", "labelColor": "#000000", "labelPadding": 9, "labelFlush": false, "labelOverlap": false,
            "domain": false, "tickColor": "#000000", "tickWidth": 2,
            "tickSize": {"condition": {"test": "datum.value % 10 === 0", "value": 8}, "value": 5}
          }
        },
        "y": {
          "field": "intensity", "type": "quantitative",
          "scale": {"domain": [-0.26, 2.27], "nice": false, "zero": false},
          "axis": {"title": "Normalized Intensity/a.u.", "titleFontSize": 32, "titleFontWeight": "bold", "titleColor": "#000000", "titlePadding": 4, "labels": false, "ticks": false, "domain": false}
        },
        "color": {
          "field": "sample", "type": "nominal",
          "scale": {"domain": ["After Stirring", "As-synthesized"], "range": ["#e8413f", "#4d4d4d"]},
          "legend": {"title": "D-Sn₄-Boc"}
        }
      }
    },
    {
      "width": 580,
      "height": 450,
      "title": {"text": "(b)", "anchor": "start", "frame": "group", "orient": "top", "baseline": "top", "offset": 0, "dx": -120, "dy": 26, "font": "DejaVu Serif", "fontSize": 30, "fontWeight": "normal", "color": "#000000"},
      "data": {"name": "xrd"},
      "mark": {"type": "line", "strokeWidth": 2.8, "clip": true},
      "encoding": {
        "x": {
          "field": "theta", "type": "quantitative",
          "scale": {"domain": [3, 50], "nice": false, "zero": false},
          "axis": {
            "title": "2 theta/degree", "titleFontSize": 32, "titleFontWeight": "bold", "titleColor": "#000000", "titlePadding": 1,
            "values": [5, 10, 15, 20, 25, 30, 35, 40, 45, 50],
            "labelExpr": "datum.value % 10 === 0 ? datum.label : ''",
            "labelFontSize": 30, "labelFontWeight": "bold", "labelColor": "#000000", "labelPadding": 9, "labelFlush": false, "labelOverlap": false,
            "domain": false, "tickColor": "#000000", "tickWidth": 2,
            "tickSize": {"condition": {"test": "datum.value % 10 === 0", "value": 8}, "value": 5}
          }
        },
        "y": {
          "field": "intensity", "type": "quantitative",
          "scale": {"domain": [-0.26, 2.27], "nice": false, "zero": false},
          "axis": {"title": "Normalized Intensity/a.u.", "titleFontSize": 32, "titleFontWeight": "bold", "titleColor": "#000000", "titlePadding": 4, "labels": false, "ticks": false, "domain": false}
        },
        "color": {
          "field": "sample", "type": "nominal",
          "scale": {"domain": ["After Stirring", "As-synthesized"], "range": ["#e8413f", "#4d4d4d"]},
          "legend": {"title": "D-Sn₄-Boc"}
        }
      }
    }
  ]
}
